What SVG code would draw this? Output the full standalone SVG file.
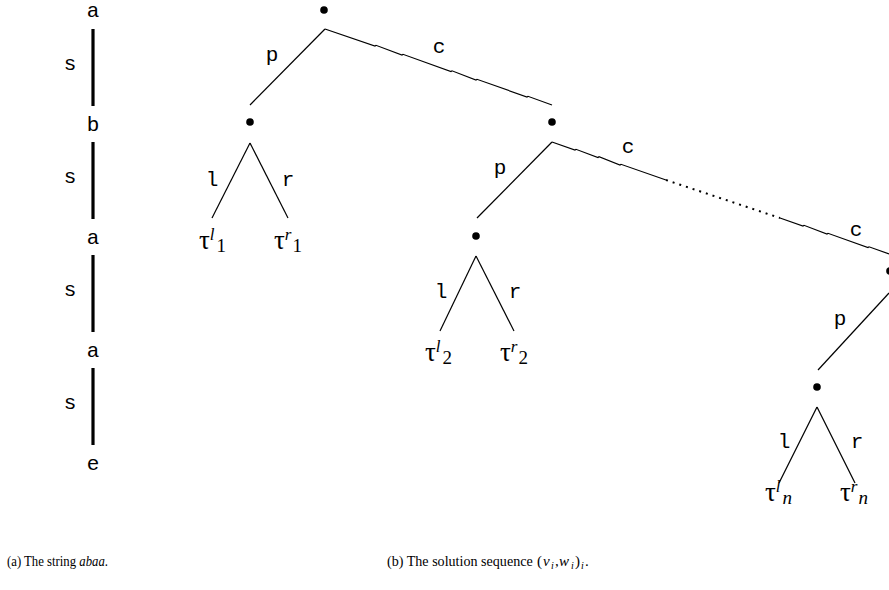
<svg xmlns="http://www.w3.org/2000/svg" width="889" height="590" viewBox="0 0 889 590">
<style>
.m{font-family:"Liberation Mono","Courier New",monospace;font-size:21px;fill:#000}
.t{font-family:"Liberation Serif","Times New Roman",serif;fill:#000}
.tau{font-size:27px}
.sup{font-size:17px;font-style:italic}
.sub{font-size:19px}
.subi{font-size:19px;font-style:italic}
.cap{font-size:15px}
.ci{font-size:15px;font-style:italic}
.cs{font-size:10px;font-style:italic}
.bar{stroke:#000;stroke-width:3.2}
.e{stroke:#000;stroke-width:1.2;fill:none}
.d{stroke:#000;stroke-width:2;fill:none;stroke-dasharray:2 5}
</style>
<rect width="889" height="590" fill="#fff"/>
<g id="string">
<text class="m" x="93" y="17" text-anchor="middle">a</text>
<text class="m" x="93" y="131" text-anchor="middle">b</text>
<text class="m" x="93" y="244" text-anchor="middle">a</text>
<text class="m" x="93" y="357" text-anchor="middle">a</text>
<text class="m" x="93" y="470" text-anchor="middle">e</text>
<text class="m" x="70" y="70" text-anchor="middle">s</text>
<text class="m" x="70" y="183" text-anchor="middle">s</text>
<text class="m" x="70" y="296" text-anchor="middle">s</text>
<text class="m" x="70" y="409" text-anchor="middle">s</text>
<line class="bar" x1="93" y1="29" x2="93" y2="106"/>
<line class="bar" x1="93" y1="142" x2="93" y2="219"/>
<line class="bar" x1="93" y1="255" x2="93" y2="332"/>
<line class="bar" x1="93" y1="368" x2="93" y2="445"/>
</g>
<g id="connectors">
<line class="e" x1="325" y1="29" x2="250" y2="105"/>
<polyline class="e" points="325,29 375,46 376,45.3 402,55 403,54.3 451,71.5 452,70.8 476,80 477,79.3 527,97 528,96.3 552,105"/>
<line class="e" x1="250" y1="143" x2="212" y2="218"/>
<line class="e" x1="250" y1="143" x2="288" y2="218"/>
<line class="e" x1="552" y1="142" x2="477" y2="218"/>
<polyline class="e" points="552,142 575,150 576,149.3 598,157.5 599,156.8 620,165 621,164.3 666,180"/>
<line class="d" x1="666" y1="180" x2="780" y2="218"/>
<polyline class="e" points="780,218 803,226 804,225.3 827,234 828,233.3 868,247.5 869,246.8 889,254"/>
<line class="e" x1="476" y1="256" x2="440" y2="331"/>
<line class="e" x1="476" y1="256" x2="514" y2="331"/>
<line class="e" x1="889" y1="293" x2="818" y2="370"/>
<line class="e" x1="817" y1="407" x2="779" y2="483"/>
<line class="e" x1="817" y1="407" x2="855" y2="483"/>
</g>
<g id="root"><circle cx="324" cy="10" r="3.8"/></g>
<g id="v1"><circle cx="250" cy="122" r="3.8"/></g>
<g id="w1"><circle cx="552" cy="122" r="3.8"/></g>
<g id="v2"><circle cx="476" cy="236" r="3.8"/></g>
<g id="wn"><circle cx="890" cy="271" r="3.8"/></g>
<g id="vn"><circle cx="817" cy="387" r="3.8"/></g>
<g id="labels">
<text class="m" x="272" y="61" text-anchor="middle">p</text>
<text class="m" x="439" y="53" text-anchor="middle">c</text>
<text class="m" x="212" y="186" text-anchor="middle">l</text>
<text class="m" x="288" y="186" text-anchor="middle">r</text>
<text class="m" x="500" y="174" text-anchor="middle">p</text>
<text class="m" x="628" y="153" text-anchor="middle">c</text>
<text class="m" x="441" y="298" text-anchor="middle">l</text>
<text class="m" x="515" y="298" text-anchor="middle">r</text>
<text class="m" x="856" y="236" text-anchor="middle">c</text>
<text class="m" x="840" y="325" text-anchor="middle">p</text>
<text class="m" x="784" y="448" text-anchor="middle">l</text>
<text class="m" x="857" y="448" text-anchor="middle">r</text>
</g>
<g id="leaves">
<text class="t" x="199" y="249"><tspan class="tau">τ</tspan><tspan class="sup" dy="-9">l</tspan><tspan class="sub" dx="2" dy="12">1</tspan></text>
<text class="t" x="274" y="249"><tspan class="tau">τ</tspan><tspan class="sup" dy="-9">r</tspan><tspan class="sub" dx="1" dy="12">1</tspan></text>
<text class="t" x="425" y="361"><tspan class="tau">τ</tspan><tspan class="sup" dy="-9">l</tspan><tspan class="sub" dx="2" dy="12">2</tspan></text>
<text class="t" x="500" y="361"><tspan class="tau">τ</tspan><tspan class="sup" dy="-9">r</tspan><tspan class="sub" dx="1" dy="12">2</tspan></text>
<text class="t" x="765" y="501"><tspan class="tau">τ</tspan><tspan class="sup" dy="-9">l</tspan><tspan class="subi" dx="2" dy="12">n</tspan></text>
<text class="t" x="840" y="501"><tspan class="tau">τ</tspan><tspan class="sup" dy="-9">r</tspan><tspan class="subi" dx="1" dy="12">n</tspan></text>
</g>
<g id="captions">
<g transform="translate(7,566) scale(0.85,1)"><text class="t cap" x="0" y="0">(a) The string <tspan font-style="italic">abaa</tspan>.</text></g>
<g transform="translate(387,566) scale(0.94,1)"><text class="t cap" x="0" y="0">(b) The solution sequence</text></g>
<text class="t cap" x="537" y="566">(</text>
<text class="t ci" x="543" y="566">v</text>
<text class="t cs" x="551" y="569">i</text>
<text class="t cap" x="555" y="566">,</text>
<text class="t ci" x="559" y="566">w</text>
<text class="t cs" x="571" y="569">i</text>
<text class="t cap" x="575" y="566">)</text>
<text class="t cs" x="581" y="569">i</text>
<text class="t cap" x="585" y="566">.</text>
</g>
</svg>
